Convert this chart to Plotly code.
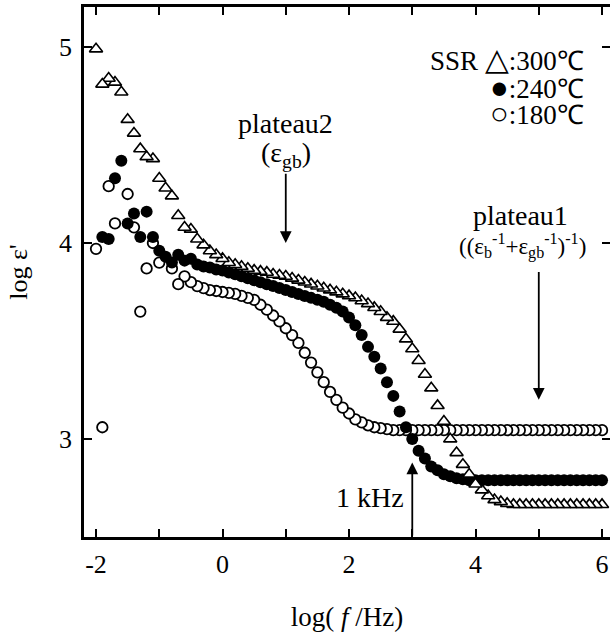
import plotly.graph_objects as go

# log(f/Hz) sampling grid (10 points per decade)
log_f = [-2.0, -1.9, -1.8, -1.7, -1.6, -1.5, -1.4, -1.3, -1.2, -1.1,
         -1.0, -0.9, -0.8, -0.7, -0.6, -0.5, -0.4, -0.3, -0.2, -0.1,
         0.0, 0.1, 0.2, 0.3, 0.4, 0.5, 0.6, 0.7, 0.8, 0.9,
         1.0, 1.1, 1.2, 1.3, 1.4, 1.5, 1.6, 1.7, 1.8, 1.9,
         2.0, 2.1, 2.2, 2.3, 2.4, 2.5, 2.6, 2.7, 2.8, 2.9,
         3.0, 3.1, 3.2, 3.3, 3.4, 3.5, 3.6, 3.7, 3.8, 3.9,
         4.0, 4.1, 4.2, 4.3, 4.4, 4.5, 4.6, 4.7, 4.8, 4.9,
         5.0, 5.1, 5.2, 5.3, 5.4, 5.5, 5.6, 5.7, 5.8, 5.9, 6.0]

# log eps' , SSR 300 C (open triangles)
eps_300 = [4.99, 4.81, 4.84, 4.82, 4.77, 4.63, 4.56, 4.48, 4.44, 4.43,
           4.33, 4.28, 4.24, 4.14, 4.08, 4.07, 4.02, 3.99, 3.96, 3.94,
           3.92, 3.90, 3.89, 3.88, 3.87, 3.86, 3.855, 3.85, 3.84, 3.835,
           3.83, 3.82, 3.81, 3.80, 3.79, 3.78, 3.77, 3.76, 3.75, 3.74,
           3.73, 3.72, 3.705, 3.69, 3.67, 3.65, 3.62, 3.60, 3.56, 3.51,
           3.46, 3.40, 3.33, 3.26, 3.17, 3.09, 3.00, 2.93, 2.87, 2.82,
           2.77, 2.74, 2.71, 2.69, 2.68, 2.67, 2.665, 2.665, 2.665, 2.665,
           2.665, 2.665, 2.665, 2.665, 2.665, 2.665, 2.665, 2.665, 2.665, 2.665, 2.665]

# log eps' , SSR 240 C (filled circles)
eps_240 = [None, 4.03, 4.02, 4.33, 4.42, 4.10, 4.15, 4.03, 4.16, 4.03,
           3.96, 3.93, 3.90, 3.94, 3.91, 3.92, 3.89, 3.88, 3.875, 3.865,
           3.86, 3.85, 3.84, 3.83, 3.82, 3.81, 3.80, 3.79, 3.78, 3.77,
           3.76, 3.75, 3.74, 3.73, 3.72, 3.71, 3.70, 3.685, 3.67, 3.65,
           3.62, 3.58, 3.53, 3.47, 3.42, 3.36, 3.29, 3.22, 3.14, 3.06,
           3.00, 2.94, 2.90, 2.86, 2.84, 2.82, 2.81, 2.80, 2.795, 2.79,
           2.79, 2.79, 2.79, 2.79, 2.79, 2.79, 2.79, 2.79, 2.79, 2.79,
           2.79, 2.79, 2.79, 2.79, 2.79, 2.79, 2.79, 2.79, 2.79, 2.79, 2.79]

# log eps' , SSR 180 C (open circles)
eps_180 = [3.97, 3.06, 4.29, 4.10, None, 4.25, 4.08, 3.65, 3.87, 4.00,
           3.90, None, 3.87, 3.79, 3.83, 3.80, 3.78, 3.77, 3.76, 3.755,
           3.75, 3.745, 3.74, 3.73, 3.72, 3.71, 3.685, 3.66, 3.63, 3.60,
           3.565, 3.53, 3.49, 3.44, 3.39, 3.34, 3.29, 3.24, 3.20, 3.16,
           3.13, 3.10, 3.085, 3.07, 3.06, 3.055, 3.05, 3.045, 3.045, 3.045,
           3.045, 3.045, 3.045, 3.045, 3.045, 3.045, 3.045, 3.045, 3.045, 3.045,
           3.045, 3.045, 3.045, 3.045, 3.045, 3.045, 3.045, 3.045, 3.045, 3.045,
           3.045, 3.045, 3.045, 3.045, 3.045, 3.045, 3.045, 3.045, 3.045, 3.045, 3.045]

x_tickvals = [-2, 0, 2, 4, 6]
x_ticktext = ["-2", "0", "2", "4", "6"]
y_tickvals = [3, 4, 5]
y_ticktext = ["3", "4", "5"]

SERIF = "Liberation Serif, Times New Roman, serif"

fig = go.Figure()
# swept from high to low frequency -> draw reversed
fig.add_trace(go.Scatter(x=log_f[::-1], y=eps_180[::-1], mode="markers", name="180℃",
                         marker=dict(symbol="circle", size=10.5, color="white",
                                     line=dict(color="black", width=1.8))))
fig.add_trace(go.Scatter(x=log_f[::-1], y=eps_240[::-1], mode="markers", name="240℃",
                         marker=dict(symbol="circle", size=12, color="black",
                                     line=dict(color="black", width=0))))
fig.add_trace(go.Scatter(x=log_f[::-1], y=eps_300[::-1], mode="markers", name="300℃",
                         marker=dict(symbol="triangle-up", size=11.5, color="white",
                                     line=dict(color="black", width=1.6))))
# carrier for right-side ticks
fig.add_trace(go.Scatter(x=[], y=[], yaxis="y2", showlegend=False))

ann_font = dict(family=SERIF, size=28, color="black")
leg_font = dict(family=SERIF, size=27, color="black")
big = '<span style="font-size:31px">{}</span>'
annotations = [
    dict(x=1.0, y=4.61, text="plateau2", showarrow=False, font=ann_font),
    dict(x=1.0, y=4.0, ax=1.0, ay=4.45, axref="x", ayref="y", text="(ε<sub>gb</sub>)",
         font=ann_font, showarrow=True, arrowhead=2, arrowsize=1.3, arrowwidth=1.8,
         arrowcolor="black", standoff=0),
    dict(x=4.71, y=4.14, text="plateau1", showarrow=False, font=ann_font),
    dict(x=4.74, y=3.985,
         text="((ε<sub>b</sub><sup>-1</sup>+ε<sub>gb</sub><sup>-1</sup>)<sup>-1</sup>)",
         showarrow=False, font=dict(family=SERIF, size=23, color="black")),
    dict(x=5.0, y=3.2, ax=5.0, ay=3.86, axref="x", ayref="y", text="",
         showarrow=True, arrowhead=2, arrowsize=1.3, arrowwidth=1.8, arrowcolor="black"),
    dict(x=2.33, y=2.70, text="1 kHz", showarrow=False, font=ann_font),
    dict(x=3.0, y=2.88, ax=3.0, ay=2.5, axref="x", ayref="y", text="",
         showarrow=True, arrowhead=2, arrowsize=1.3, arrowwidth=1.8, arrowcolor="black"),
    dict(x=5.74, y=4.935, xanchor="right", text="SSR " + big.format("△") + ":300℃",
         showarrow=False, font=leg_font),
    dict(x=5.74, y=4.795, xanchor="right", text=big.format("●") + ":240℃",
         showarrow=False, font=leg_font),
    dict(x=5.74, y=4.66, xanchor="right", text=big.format("○") + ":180℃",
         showarrow=False, font=leg_font),
]

fig.update_layout(
    width=610, height=634,
    margin=dict(l=84, r=0, t=7, b=97),
    paper_bgcolor="white", plot_bgcolor="white",
    showlegend=False,
    font=dict(family=SERIF, size=24, color="black"),
    annotations=annotations,
    xaxis=dict(range=[-2.19, 6.126], tickvals=x_tickvals, ticktext=x_ticktext,
               ticks="inside", ticklen=8, tickwidth=1.8, tickcolor="black",
               minor=dict(dtick=1, tick0=0, ticks="inside", ticklen=8, tickwidth=1.8,
                          tickcolor="black", showgrid=False),
               showline=True, linewidth=2.5, linecolor="black", mirror="ticks",
               showgrid=False, zeroline=False, ticklabelstandoff=2,
               tickfont=dict(family=SERIF, size=26),
               title=dict(text="log(<i> f </i>/Hz)", font=dict(family=SERIF, size=27), standoff=30)),
    yaxis=dict(range=[2.5, 5.204], tickvals=y_tickvals, ticktext=y_ticktext,
               ticks="inside", ticklen=8, tickwidth=1.8, tickcolor="black",
               showline=True, linewidth=2.5, linecolor="black", mirror=False,
               showgrid=False, zeroline=False, ticklabelstandoff=4,
               tickfont=dict(family=SERIF, size=26),
               title=dict(text="log ε'", font=dict(family=SERIF, size=26), standoff=24)),
    yaxis2=dict(range=[2.5, 5.204], overlaying="y", side="right", tickvals=y_tickvals,
                ticks="inside", ticklen=8, tickwidth=1.8, tickcolor="black",
                showticklabels=False, showline=False, showgrid=False, zeroline=False),
)

fig.write_html("out.html")
